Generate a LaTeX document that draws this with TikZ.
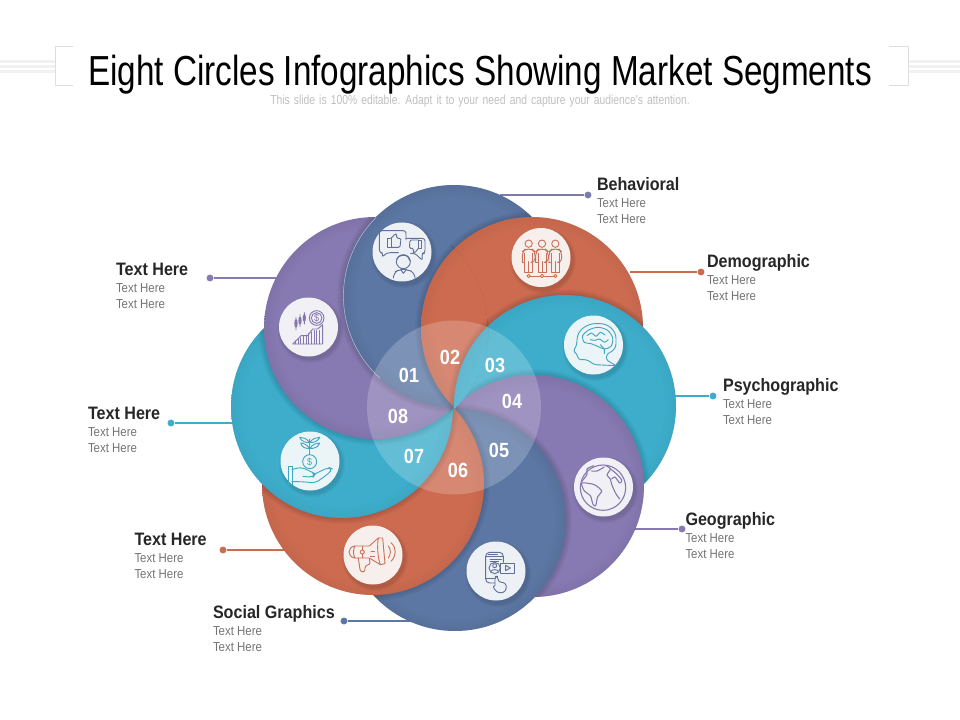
\documentclass[tikz,border=0pt]{standalone}
\usepackage{fontspec}
\newfontfamily\titlefont[FakeStretch=0.792]{Liberation Sans}
\newfontfamily\segfont[FakeStretch=0.895]{Liberation Sans}
\newfontfamily\subfont[FakeStretch=0.88]{Liberation Sans}
\definecolor{petalblue}{HTML}{5C77A4}
\definecolor{petalorange}{HTML}{CC6B50}
\definecolor{petalteal}{HTML}{3DADCB}
\definecolor{petalpurple}{HTML}{8779B2}
\definecolor{linkblue}{HTML}{7C7CA8}
\definecolor{framegray}{HTML}{DEDEDE}
\definecolor{stripegray}{HTML}{F1F1F1}
\definecolor{iconblue}{HTML}{5F7099}
\definecolor{iconorange}{HTML}{C8705A}
\definecolor{iconteal}{HTML}{3FA7BF}
\definecolor{iconpurple}{HTML}{8377AC}
\pgfdeclareradialshading{shadeblue}{\pgfpoint{0bp}{0bp}}{color(0bp)=(petalblue); color(22bp)=(petalblue); color(25bp)=(petalblue!94!black); color(50bp)=(petalblue!94!black)}
\pgfdeclareradialshading{shadeorange}{\pgfpoint{0bp}{0bp}}{color(0bp)=(petalorange); color(22bp)=(petalorange); color(25bp)=(petalorange!96!black); color(50bp)=(petalorange!96!black)}
\pgfdeclareradialshading{shadeteal}{\pgfpoint{0bp}{0bp}}{color(0bp)=(petalteal); color(22bp)=(petalteal); color(25bp)=(petalteal!96!black); color(50bp)=(petalteal!96!black)}
\pgfdeclareradialshading{shadepurple}{\pgfpoint{0bp}{0bp}}{color(0bp)=(petalpurple); color(22bp)=(petalpurple); color(25bp)=(petalpurple!95!black); color(50bp)=(petalpurple!95!black)}
\newcommand{\petalshadow}[1]{%
  \foreach \rr in {112,...,117}{\fill[black,opacity=0.024] (#1) circle (\rr);}
}
\newcommand{\petal}[2]{%
  \petalshadow{#1}
  \shade[shading=#2] (#1) circle (111);
}
\newcommand{\seglabel}[4]{%
  \node[seghead,anchor=base west] (#1h) at (#2,#3) {#4};
  \node[segtext,anchor=base west] (#1a) at (#2,#3+17) {Text Here};
  \node[segtext,anchor=base west] (#1b) at (#2,#3+33) {Text Here};
}
\newcommand{\icondisc}[1]{%
  \foreach \rr in {30,31,32,33}{\fill[black,opacity=0.03] ($(#1)+(2,3)$) circle (\rr);}
  \fill[white,opacity=0.9] (#1) circle (29.5);
}
\usetikzlibrary{calc}
\tikzset{every picture/.style={line width=0.75pt},
  seghead/.style={inner sep=0pt,font=\segfont\bfseries\fontsize{13.5}{16}\selectfont,text=black!85},
  segtext/.style={inner sep=0pt,font=\subfont\fontsize{9.75}{12}\selectfont,text=black!55},
  numtext/.style={inner sep=0pt,font=\subfont\bfseries\fontsize{15.4}{18}\selectfont,text=white},
  segdot/.style={circle,inner sep=0pt,minimum size=5.2pt},
  seglink/.style={line width=1.3pt},
  iconline/.style={line width=0.68pt,line join=round,line cap=round},
  iconframe/.style 2 args={shift={(#1,#2)},x=0.25pt,y=0.25pt}}
\begin{document}
\begin{tikzpicture}[x=0.75pt,y=0.75pt,yscale=-1,xscale=1]
\useasboundingbox (0,0) rectangle (960,720);
%Shape: stripes and brackets
\foreach \yy in {61.5,66.5,71.5}{
  \draw[stripegray,line width=2pt] (0,\yy) -- (55,\yy);
  \draw[stripegray,line width=2pt] (908,\yy) -- (960,\yy);
}
\draw[framegray] (73,47) -- (55,47) -- (55,86) -- (73,86);
\draw[framegray] (889,47) -- (908,47) -- (908,86) -- (889,86);
% Text Node
\node[inner sep=0pt,anchor=base,font=\titlefont\fontsize{31.5}{36}\selectfont,text=black] (title) at (480,85.5) {Eight Circles Infographics Showing Market Segments};
% Text Node
\node[inner sep=0pt,anchor=base,font=\titlefont\fontsize{9.8}{11}\selectfont,text=black!25] (subtitle) at (480,105) {\spaceskip=3.05pt\relax This slide is 100\% editable. Adapt it to your need and capture your audience's attention.};
%Shape: Circle centres
\coordinate (c01) at (454,296);
\coordinate (c02) at (532,328);
\coordinate (c03) at (565,406);
\coordinate (c04) at (533,486);
\coordinate (c05) at (455,520);
\coordinate (c06) at (373,484);
\coordinate (c07) at (342,407);
\coordinate (c08) at (375,328);
% Connectors
\node[segdot,fill=linkblue] (dotbeh) at (588,195) {};
\node[segdot,fill=petalorange] (dotdem) at (701,272) {};
\node[segdot,fill=petalteal] (dotpsy) at (713,396) {};
\node[segdot,fill=petalpurple] (dotgeo) at (682,529) {};
\node[segdot,fill=petalblue] (dotsoc) at (344,621) {};
\node[segdot,fill=petalorange] (dotora) at (223,550) {};
\node[segdot,fill=petalteal] (dottea) at (171,423) {};
\node[segdot,fill=petalpurple] (dotpur) at (210,278) {};
\coordinate (rimbeh) at (500,195);
\coordinate (rimdem) at (630,272);
\coordinate (rimpsy) at (670,396);
\coordinate (rimgeo) at (635,529);
\coordinate (rimsoc) at (412,621);
\coordinate (rimora) at (290,550);
\coordinate (rimtea) at (240,423);
\coordinate (rimpur) at (285,278);
\draw[seglink,linkblue] (dotbeh) -- (rimbeh);
\draw[seglink,petalorange] (dotdem) -- (rimdem);
\draw[seglink,petalteal] (dotpsy) -- (rimpsy);
\draw[seglink,petalpurple] (dotgeo) -- (rimgeo);
\draw[seglink,petalblue] (dotsoc) -- (rimsoc);
\draw[seglink,petalorange] (dotora) -- (rimora);
\draw[seglink,petalteal] (dottea) -- (rimtea);
\draw[seglink,petalpurple] (dotpur) -- (rimpur);
%Shape: the eight circles, the first three again inside the last to close the ring
\begin{scope}
\clip (c01) circle (111) (c02) circle (111) (c03) circle (111) (c04) circle (111) (c05) circle (111) (c06) circle (111) (c07) circle (111) (c08) circle (111);
\foreach \cc/\sh in {c01/shadeblue,c02/shadeorange,c03/shadeteal,c04/shadepurple,c05/shadeblue,c06/shadeorange,c07/shadeteal}{\petal{\cc}{\sh}}
\begin{scope}
\clip (c07) circle (111);
\petalshadow{c08}
\end{scope}
\shade[shading=shadepurple] (c08) circle (111);
\begin{scope}
\clip (c08) circle (111.5);
\petal{c01}{shadeblue}
\draw[white,opacity=0.55,line width=0.4pt] ([shift={(225:110.6)}]c01) arc (225:132:110.6);
\end{scope}
\begin{scope}
\clip (c08) circle (112.5);
\petal{c02}{shadeorange}
\end{scope}
\begin{scope}
\clip (c08) circle (113.5);
\petal{c03}{shadeteal}
\end{scope}
\end{scope}
%Shape: Circle
\coordinate (hub) at (454,407.5);
\fill[white,opacity=0.2] (hub) circle (87);
% Text Node
\node[numtext] (num01) at (409,375) {01};
\node[numtext] (num02) at (450,357) {02};
\node[numtext] (num03) at (495,365) {03};
\node[numtext] (num04) at (512,401) {04};
\node[numtext] (num05) at (499,450) {05};
\node[numtext] (num06) at (458,470) {06};
\node[numtext] (num07) at (414,456) {07};
\node[numtext] (num08) at (398,416) {08};
%Shape: icon discs
\coordinate (ic01) at (402,252);
\coordinate (ic02) at (541,257.5);
\coordinate (ic03) at (593.5,345);
\coordinate (ic04) at (603.5,487);
\coordinate (ic05) at (496,571);
\coordinate (ic06) at (373,555);
\coordinate (ic07) at (310,461);
\coordinate (ic08) at (308.5,327);
\foreach \ic in {ic01,ic02,ic03,ic04,ic05,ic06,ic07,ic08}{\icondisc{\ic}}
% Icon: opinions
\begin{scope}[iconframe={370}{220},iconline,iconblue]
\draw[rounded corners=2pt] (85,98) -- (52,98) -- (35,112) -- (40,98) -- (28,98) -- (28,32) -- (108,32) -- (108,60);
\draw[rounded corners=2pt] (108,55) -- (165,55) -- (165,100) -- (155,100) -- (158,122) -- (135,100) -- (122,100);
\draw (53,55) rectangle (63,82);
\draw[rounded corners=1pt] (63,55) -- (75,42) -- (80,42) -- (80,55) -- (93,55) -- (90,82) -- (63,82);
\draw (145,60) rectangle (155,85);
\draw[rounded corners=1pt] (145,85) -- (135,98) -- (130,98) -- (130,85) -- (118,85) -- (120,60) -- (145,60);
\draw (100,125) circle (21);
\draw[rounded corners=2pt] (80,120) -- (85,108) -- (110,105) -- (120,122);
\draw[rounded corners=4pt] (70,172) -- (70,158) -- (90,148) -- (110,148) -- (135,158) -- (135,172);
\draw (92,148) -- (100,160) -- (110,148);
\end{scope}
% Icon: people
\begin{scope}[iconframe={508}{225},iconline,iconorange]
\foreach \px in {62,102,142}{
  \draw (\px,56) circle (11);
  \draw[rounded corners=3pt] (\px-19,112) -- (\px-19,80) -- (\px-10,72) -- (\px+10,72) -- (\px+19,80) -- (\px+19,112) -- (\px+12,112);
  \draw (\px-19,112) -- (\px-12,112) -- (\px-12,85);
  \draw (\px-12,100) -- (\px-12,142) -- (\px+12,142) -- (\px+12,85);
  \draw (\px,110) -- (\px,142);
  \draw (\px,153) circle (5);
}
\draw (67,153) -- (97,153) (107,153) -- (137,153);
\end{scope}
% Icon: head and brain
\begin{scope}[iconframe={561}{313},iconline,iconteal]
\draw[rounded corners=2pt] (165,158) -- (100,155) -- (78,140) -- (52,140) -- (48,122) -- (36,115) -- (47,97) -- (48,78) .. controls (55,45) and (85,32) .. (110,32) .. controls (140,32) and (165,50) .. (165,85) .. controls (165,105) and (155,115) .. (138,122) -- (135,140) -- (165,158);
\draw plot[smooth cycle] coordinates {(65,68) (85,50) (112,43) (140,52) (155,75) (150,100) (130,108) (110,100) (90,92) (70,88)};
\draw plot[smooth] coordinates {(78,68) (92,60) (105,70) (118,58) (132,66)};
\draw plot[smooth] coordinates {(88,80) (102,82) (116,78) (130,88) (142,80)};
\draw (118,95) -- (130,108) -- (130,122);
\end{scope}
% Icon: globe
\begin{scope}[iconframe={571}{455},iconline,iconpurple,line width=0.8pt]
\draw (96,98) circle (68);
\draw plot[smooth cycle] coordinates {(32,85) (52,85) (72,90) (92,108) (80,125) (74,152) (66,148) (58,122) (40,108)};
\draw plot[smooth] coordinates {(32,80) (48,58) (48,42) (68,32)};
\draw plot[smooth] coordinates {(62,48) (78,48) (100,36)};
\draw plot[smooth] coordinates {(105,32) (118,42) (108,60) (118,72) (122,88) (134,115) (146,132)};
\draw plot[smooth] coordinates {(118,42) (135,55) (152,75) (146,84) (132,66) (122,72)};
\end{scope}
% Icon: phone
\begin{scope}[iconframe={464}{539},iconline,iconblue]
\draw[rounded corners=3pt] (92,132) -- (65,132) -- (65,40) -- (118,40) -- (118,70);
\draw (65,52) -- (118,52) (65,118) -- (92,118);
\draw (72,45) -- (100,45) (78,60) -- (112,60) (78,66) -- (104,66);
\draw (92,87) circle (17);
\draw (92,80) circle (6);
\draw (80,98) .. controls (84,90) and (100,90) .. (104,98);
\draw (108,72) rectangle (152,102);
\draw (125,79) -- (125,95) -- (139,87) -- cycle;
\draw[rounded corners=2pt] (93,140) -- (93,112) -- (102,112) -- (102,128) -- (125,132) -- (128,150) -- (118,162) -- (98,160) -- (85,140) -- (93,140);
\end{scope}
% Icon: megaphone
\begin{scope}[iconframe={341}{522},iconline,iconorange]
\draw (42,72) -- (85,72) -- (112,48) -- (125,48) -- (132,125) -- (118,128) -- (85,108) -- (42,108);
\draw (42,72) .. controls (18,75) and (18,105) .. (42,108);
\draw (42,72) .. controls (36,80) and (36,100) .. (42,108);
\draw (64,90) circle (6);
\draw (64,72) -- (64,84) (64,96) -- (64,108);
\draw (112,48) .. controls (108,75) and (110,105) .. (118,128);
\draw (90,88) -- (100,88) (88,102) -- (100,102);
\draw[rounded corners=2pt] (52,108) -- (58,150) -- (72,150) -- (72,130) -- (88,128) -- (85,110);
\draw (142,72) .. controls (150,82) and (150,98) .. (142,108);
\draw (150,62) .. controls (168,78) and (166,102) .. (150,118);
\end{scope}
% Icon: hand and plant
\begin{scope}[iconframe={278}{429},iconline,iconteal]
\draw (95,98) circle (21);
\node[inner sep=0pt,font=\segfont\fontsize{7.5}{8}\selectfont,text=iconteal] (dollar07) at (95,98) {\$};
\draw (95,77) -- (95,30);
\draw (95,58) .. controls (85,45) and (75,42) .. (68,42) .. controls (70,55) and (85,60) .. (95,58);
\draw (95,58) .. controls (105,45) and (115,42) .. (125,42) .. controls (122,55) and (105,60) .. (95,58);
\draw (95,40) .. controls (85,28) and (75,25) .. (65,25) .. controls (70,38) and (85,42) .. (95,40);
\draw (95,40) .. controls (105,28) and (115,25) .. (125,25) .. controls (120,38) and (105,42) .. (95,40);
\draw (30,112) rectangle (42,165);
\draw[rounded corners=3pt] (42,122) -- (68,114) -- (100,128) -- (112,135) -- (105,145) -- (75,142);
\draw[rounded corners=3pt] (108,136) -- (152,115) -- (164,120) -- (150,135) -- (112,162) -- (72,158) -- (42,158);
\end{scope}
% Icon: chart and coin
\begin{scope}[iconframe={276}{294},iconline,iconpurple]
\draw (122,72) circle (22);
\draw (122,72) circle (16);
\node[inner sep=0pt,font=\segfont\fontsize{7.5}{8}\selectfont,text=iconpurple] (dollar08) at (122,72) {\$};
\draw (60,88) ellipse (3.5 and 12) (60,70) -- (60,108);
\draw (72,80) ellipse (3.5 and 11) (72,62) -- (72,98);
\draw (85,72) ellipse (3.5 and 10) (85,56) -- (85,90);
\draw (50,150) -- (75,125) -- (95,125) -- (110,105) -- (125,105) -- (140,92) -- (140,150) -- cycle;
\foreach \hx in {58,66,74,82,90,98,106,114,122,130}{\draw (\hx,150) -- (\hx,{max(110,145-(\hx-50)*0.55)});}
\end{scope}
% Text Node
\seglabel{beh}{596.5}{190.5}{Behavioral}
\seglabel{dem}{706.5}{267.5}{Demographic}
\seglabel{psy}{722.5}{391.5}{Psychographic}
\seglabel{geo}{685}{525.5}{Geographic}
\seglabel{soc}{212.5}{618.5}{Social Graphics}
\seglabel{ora}{134}{545.5}{Text Here}
\seglabel{tea}{87.5}{419.5}{Text Here}
\seglabel{pur}{115.5}{275.5}{Text Here}
\end{tikzpicture}
\end{document}
